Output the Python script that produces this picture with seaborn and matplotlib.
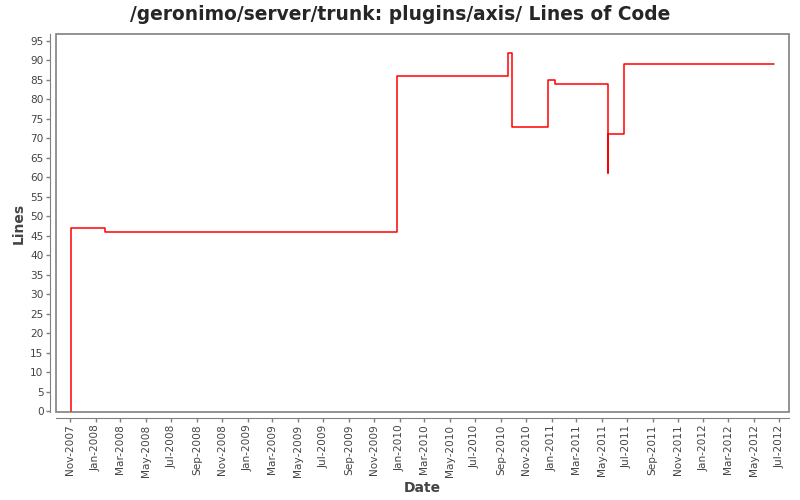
import pandas as pd
import matplotlib
matplotlib.use("Agg")
import matplotlib.pyplot as plt
import matplotlib.dates as mdates
from matplotlib.patches import Rectangle
import seaborn as sns

# Lines of code over time (step changes)
dates = ["2007-11-02", "2008-01-24", "2009-12-26", "2010-09-19", "2010-09-29",
         "2010-12-24", "2011-01-10", "2011-05-16", "2011-05-17", "2011-06-25",
         "2012-06-18"]
lines = [47, 46, 86, 92, 73, 85, 84, 61, 71, 89, 89]

df = pd.DataFrame({"Date": pd.to_datetime(["2007-11-02"] + dates),
                   "Lines": [0] + lines})

sns.set_style("white")
fig = plt.figure(figsize=(8, 5), dpi=100)
ax = fig.add_axes([0.07, 0.176, 0.916, 0.756])

sns.lineplot(data=df, x="Date", y="Lines", ax=ax, estimator=None, sort=False,
             drawstyle="steps-post", color="red", linewidth=1.1)

ax.set_xlim(pd.Timestamp("2007-09-28"), pd.Timestamp("2012-07-24"))
ax.set_ylim(-0.25, 96.8)
ax.set_yticks(range(0, 100, 5))

ax.xaxis.set_major_locator(mdates.MonthLocator(bymonth=[1, 3, 5, 7, 9, 11]))
ax.xaxis.set_major_formatter(mdates.DateFormatter("%b-%Y"))
ax.tick_params(axis="x", labelrotation=90)

ax.tick_params(axis="both", labelsize=7.6, labelcolor="#444444", color="gray",
               length=3, width=1, pad=2, direction="out", bottom=True, left=True)

# offset axis lines plus plot frame, JFreeChart-like
for side in ["top", "right"]:
    ax.spines[side].set_visible(False)
for side in ["left", "bottom"]:
    ax.spines[side].set_position(("outward", 4))
    ax.spines[side].set_color("gray")
ax.add_patch(Rectangle((0, 0), 1, 1, transform=ax.transAxes, fill=False,
                       edgecolor="gray", linewidth=1.2, clip_on=False))

ax.set_xlabel("Date", fontsize=10, color="#444444", fontweight="bold", labelpad=3)
ax.set_ylabel("Lines", fontsize=10, color="#444444", fontweight="bold", labelpad=3)
fig.suptitle("/geronimo/server/trunk: plugins/axis/ Lines of Code",
             fontsize=13.4, fontweight="bold", y=0.99)

fig.savefig("out.png", dpi=100)
